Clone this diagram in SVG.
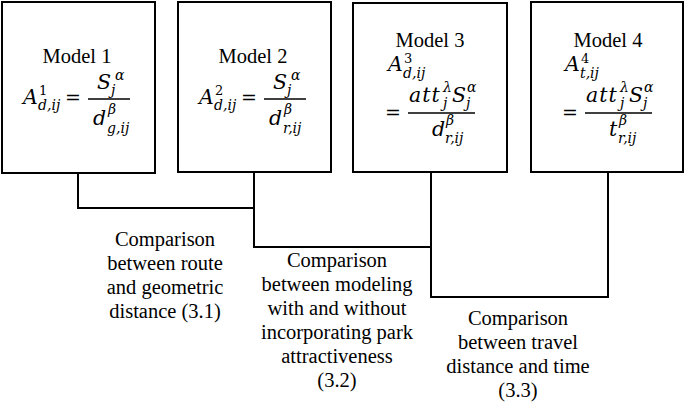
<svg xmlns="http://www.w3.org/2000/svg" width="685" height="403" viewBox="0 0 685 403">
<style>
.box{fill:#fff;stroke:#000;stroke-width:2}
.ln{fill:none;stroke:#000;stroke-width:2}
.bar{stroke:#000;stroke-width:1.3}
text{fill:#000}
.t{font-family:"Liberation Serif","Times New Roman",serif;font-size:20.5px;text-anchor:middle}
.eq{font-family:"DejaVu Serif","Liberation Serif",serif}
.m{font-size:20.5px;font-style:italic}
.u{font-size:19px}
.s{font-size:14px;font-style:italic}
.sn{font-size:13px}
</style>
<g id="connectors">
<path class="ln" d="M78,173 V208 H254"/>
<path class="ln" d="M254,172 V247 H431"/>
<path class="ln" d="M431,172 V297 H608 V172"/>
</g>
<g id="model1">
<rect class="box" x="2" y="2" width="153" height="171"/>
<text class="t" x="77" y="63">Model 1</text>
<g class="eq">
<text class="m" x="23" y="104">A</text>
<text class="sn" x="39" y="95">1</text>
<text class="s" x="38" y="110">d,ij</text>
<text class="u" x="65" y="104">=</text>
<line class="bar" x1="88" y1="99" x2="130" y2="99"/>
<text class="m" x="97" y="89">S</text>
<text class="s" x="115" y="80">α</text>
<text class="s" x="111" y="95">j</text>
<text class="m" x="93" y="125">d</text>
<text class="s" x="108" y="114">β</text>
<text class="s" x="107" y="133">g,ij</text>
</g>
</g>
<g id="model2">
<rect class="box" x="178" y="2" width="153" height="170"/>
<text class="t" x="253" y="63">Model 2</text>
<g class="eq">
<text class="m" x="199" y="104">A</text>
<text class="sn" x="215" y="95">2</text>
<text class="s" x="214" y="110">d,ij</text>
<text class="u" x="241" y="104">=</text>
<line class="bar" x1="264" y1="99" x2="306" y2="99"/>
<text class="m" x="273" y="89">S</text>
<text class="s" x="291" y="80">α</text>
<text class="s" x="287" y="95">j</text>
<text class="m" x="269" y="125">d</text>
<text class="s" x="284" y="114">β</text>
<text class="s" x="283" y="133">r,ij</text>
</g>
</g>
<g id="model3">
<rect class="box" x="353" y="3" width="154" height="169"/>
<text class="t" x="430" y="47">Model 3</text>
<g class="eq">
<text class="m" x="388" y="71">A</text>
<text class="sn" x="404" y="63">3</text>
<text class="s" x="403" y="78">d,ij</text>
<text class="u" x="385" y="119">=</text>
<line class="bar" x1="408" y1="113" x2="475" y2="113"/>
<text class="m" x="409" y="102" letter-spacing="1">att</text>
<text class="s" x="443" y="92">λ</text>
<text class="s" x="443" y="108">j</text>
<text class="m" x="452" y="102">S</text>
<text class="s" x="467" y="92">α</text>
<text class="s" x="466" y="108">j</text>
<text class="m" x="432" y="136">d</text>
<text class="s" x="446" y="125">β</text>
<text class="s" x="445" y="143">r,ij</text>
</g>
</g>
<g id="model4">
<rect class="box" x="531" y="2" width="152" height="170"/>
<text class="t" x="608" y="47">Model 4</text>
<g class="eq">
<text class="m" x="565" y="71">A</text>
<text class="sn" x="581" y="63">4</text>
<text class="s" x="580" y="78">t,ij</text>
<text class="u" x="562" y="119">=</text>
<line class="bar" x1="585" y1="113" x2="652" y2="113"/>
<text class="m" x="586" y="102" letter-spacing="1">att</text>
<text class="s" x="620" y="92">λ</text>
<text class="s" x="620" y="108">j</text>
<text class="m" x="629" y="102">S</text>
<text class="s" x="644" y="92">α</text>
<text class="s" x="643" y="108">j</text>
<text class="m" x="609" y="136">t</text>
<text class="s" x="619" y="125">β</text>
<text class="s" x="618" y="143">r,ij</text>
</g>
</g>
<g id="label31">
<text class="t" x="165" y="246">Comparison</text>
<text class="t" x="165" y="270">between route</text>
<text class="t" x="165" y="294">and geometric</text>
<text class="t" x="165" y="318">distance (3.1)</text>
</g>
<g id="label32">
<text class="t" x="337" y="267">Comparison</text>
<text class="t" x="337" y="291">between modeling</text>
<text class="t" x="337" y="315">with and without</text>
<text class="t" x="337" y="339">incorporating park</text>
<text class="t" x="337" y="363">attractiveness</text>
<text class="t" x="337" y="387">(3.2)</text>
</g>
<g id="label33">
<text class="t" x="518" y="325">Comparison</text>
<text class="t" x="518" y="349">between travel</text>
<text class="t" x="518" y="373">distance and time</text>
<text class="t" x="518" y="397">(3.3)</text>
</g>
</svg>
